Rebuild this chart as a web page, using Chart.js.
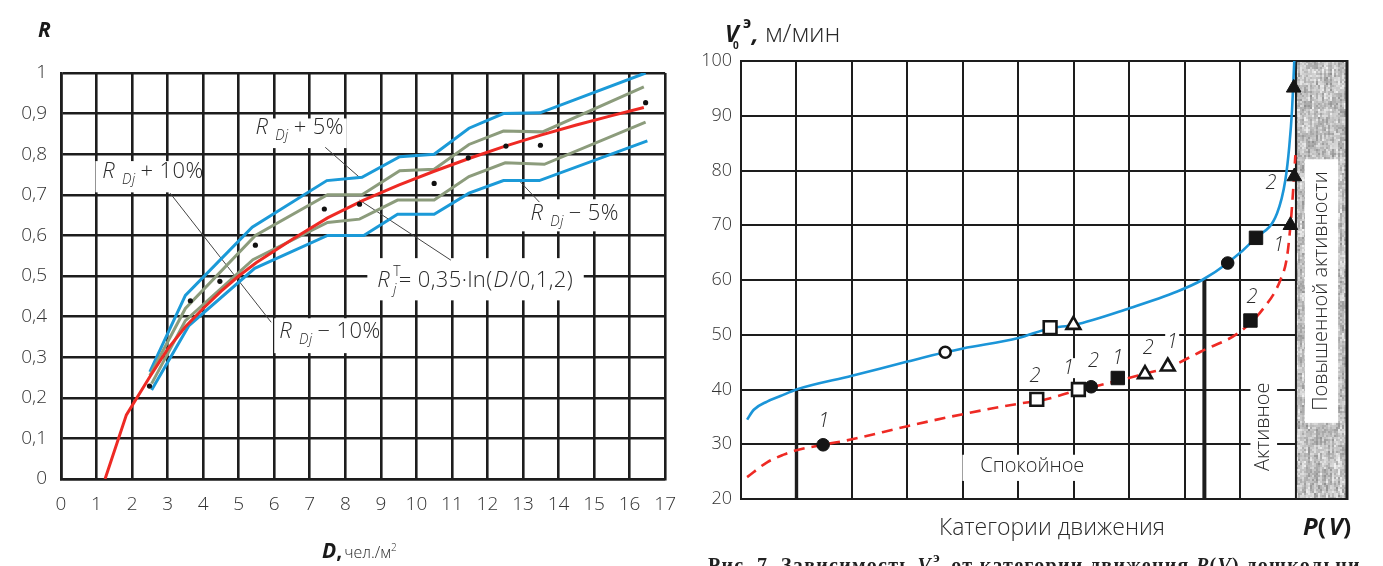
<!DOCTYPE html>
<html><head><meta charset="utf-8">
<script src="https://cdn.jsdelivr.net/npm/chart.js@4/dist/chart.umd.min.js"></script>
<style>
html,body{margin:0;padding:0;background:#fff;overflow:hidden;width:1383px;height:566px;}
#lw{position:absolute;left:0;top:0;width:690px;height:566px;}
#rw{position:absolute;left:690px;top:0;width:693px;height:566px;}
canvas{display:block;}
</style></head><body>
<div id="lw"><canvas id="lc" width="690" height="566"></canvas></div>
<div id="rw"><canvas id="rc" width="693" height="566"></canvas></div>
<script>
// ---------- LEFT CHART DATA (R vs D) ----------
const xTicksLeft = [0,1,2,3,4,5,6,7,8,9,10,11,12,13,14,15,16,17];
const redD = [1.24, 1.84, 2.5, 3.0, 3.5, 4.0, 4.5, 5.0, 5.5, 6.5, 7.5, 8.5, 9.5, 10.5, 11.5, 12.5, 13.5, 14.5, 15.5, 16.4];
const redR = [0, 0.158, 0.252, 0.32, 0.375, 0.42, 0.462, 0.50, 0.533, 0.59, 0.643, 0.686, 0.724, 0.758, 0.79, 0.82, 0.847, 0.872, 0.895, 0.915];
const up10D = [2.5, 3.5, 5.38, 7.48, 8.47, 9.53, 10.5, 11.48, 12.45, 13.48, 16.45];
const up10R = [0.264, 0.452, 0.62, 0.735, 0.743, 0.794, 0.80, 0.864, 0.90, 0.902, 1.0];
const up5D = [2.5, 3.5, 5.47, 7.5, 8.47, 9.53, 10.5, 11.48, 12.45, 13.55, 16.4];
const up5R = [0.255, 0.42, 0.60, 0.70, 0.70, 0.759, 0.763, 0.824, 0.857, 0.855, 0.966];
const dn5D = [2.55, 3.5, 5.4, 7.5, 8.4, 9.47, 10.5, 11.48, 12.5, 13.6, 16.45];
const dn5R = [0.235, 0.39, 0.54, 0.632, 0.64, 0.687, 0.687, 0.745, 0.779, 0.775, 0.879];
const dn10D = [2.55, 3.6, 5.45, 7.5, 8.52, 9.47, 10.5, 11.48, 12.45, 13.46, 16.5];
const dn10R = [0.219, 0.378, 0.519, 0.60, 0.60, 0.652, 0.652, 0.704, 0.735, 0.735, 0.833];
const dotD = [2.49, 3.64, 4.47, 5.47, 7.41, 8.4, 10.5, 11.46, 12.52, 13.49, 16.45];
const dotR = [0.229, 0.439, 0.487, 0.576, 0.665, 0.677, 0.728, 0.791, 0.82, 0.822, 0.927];

// ---------- RIGHT CHART DATA (V vs P(V)) ----------
const yTicksRight = [20,30,40,50,60,70,80,90,100];
const blueX = [0.11, 0.23, 0.47, 0.71, 1.0, 2.0, 3.0, 3.68, 4.0, 5.0, 5.57, 6.0, 7.0, 7.86, 8.31, 8.77, 9.28, 9.66, 9.81, 9.88, 9.93, 9.97];
const blueY = [34.5, 36.3, 37.8, 38.8, 40.0, 42.5, 45.1, 46.8, 47.5, 49.4, 51.2, 51.8, 54.85, 57.9, 60.0, 63.1, 67.7, 72.2, 78.3, 84.4, 91.1, 100];
const redX = [0.11, 0.47, 0.77, 1.0, 1.48, 2.0, 3.0, 4.0, 5.0, 5.45, 6.08, 6.31, 6.79, 7.28, 7.69, 8.28, 9.0, 9.42, 9.72, 9.84, 9.92, 9.99];
const redY = [24.0, 26.7, 28.1, 28.9, 29.9, 30.9, 33.3, 35.5, 37.4, 38.1, 39.9, 40.4, 41.6, 42.9, 44.0, 46.9, 50.6, 54.9, 60.0, 64.3, 72.2, 82.8];
const fCircX = [1.48, 6.31, 8.77];   const fCircY = [29.9, 40.5, 63.1];
const oCircX = [3.68];               const oCircY = [46.8];
const oSqX = [5.33, 5.57, 6.08];     const oSqY = [38.2, 51.3, 40.0];
const fSqX = [6.79, 9.18, 9.28];     const fSqY = [42.1, 52.6, 67.7];
const oTriX = [5.99, 7.28, 7.69];    const oTriY = [51.8, 42.8, 44.2];
const fTriX = [9.9, 9.97, 9.96];     const fTriY = [70.0, 78.9, 95.1];
const numLabels = ['1','2','1','2','1','2','1','2','2','1'];
const numX = [1.49, 5.30, 5.90, 6.35, 6.79, 7.34, 7.77, 9.21, 9.55, 9.69];
const numY = [34.15, 42.36, 43.9, 45.1, 45.7, 47.5, 48.7, 56.9, 77.7, 66.4];

// ---------- helpers ----------
const FAM = '"Open Sans", "Noto Sans", sans-serif';
const pts = (xs, ys) => xs.map((x, i) => ({x, y: ys[i]}));
function drawRich(ctx, x, base, parts){
  ctx.textBaseline = 'alphabetic'; ctx.textAlign = 'left';
  for (const p of parts){
    if (p.ax !== undefined) x = p.ax;
    ctx.font = p.f; ctx.fillStyle = p.c || '#2a2a2a';
    ctx.fillText(p.t, x, base + (p.dy || 0));
    if (!p.stay) x += ctx.measureText(p.t).width + (p.gap || 0);
  }
  return x;
}
const fR = 'italic 300 22px ' + FAM, fSub = 'italic 300 14px ' + FAM, fN = '300 22px ' + FAM;
const rdj = (rest) => [{t:'R', f:fR, gap:7},{t:'Dj', f:fSub, dy:6, gap:5},{t:rest, f:fN}];

// annotations of left chart (data coords): box [x0,x1,yTop,yBottom], text anchor
const leftNotes = [
  {box:[5.22, 8.04, 0.888, 0.815], tx:5.47, ty:0.85, parts: rdj('+ 5%')},
  {box:[0.97, 3.84, 0.783, 0.706], tx:1.16, ty:0.741, parts: rdj('+ 10%')},
  {box:[8.62, 14.71, 0.544, 0.44], tx:8.9, ty:0.4726, parts:[
     {t:'R', f:fR, gap:3},{t:'T', f:'300 14px '+FAM, dy:-11, stay:true},{t:'j', f:fSub, dy:7, gap:2},
     {t:'= 0,35·ln(', f:fN, gap:1},{t:'D', f:fR, gap:1},{t:'/0,1,2)', f:fN}]},
  {box:[12.91, 15.73, 0.689, 0.61], tx:13.21, ty:0.6375, parts: rdj('− 5%')},
  {box:[6.0, 8.98, 0.396, 0.31], tx:6.14, ty:0.347, parts: rdj('− 10%')}
];
const leftLeaders = [
  [7.435, 0.817, 8.40, 0.743],
  [3.07, 0.704, 5.915, 0.386],
  [8.40, 0.687, 10.97, 0.539],
  [12.88, 0.736, 13.46, 0.682]
];

const leftDecor = {
  id:'leftDecor',
  beforeDatasetsDraw(chart){
    const {ctx, scales:{x, y}} = chart;
    ctx.save();
    ctx.fillStyle = '#fff';
    for (const a of leftNotes){
      const x0 = x.getPixelForValue(a.box[0]), x1 = x.getPixelForValue(a.box[1]);
      const y0 = y.getPixelForValue(a.box[2]), y1 = y.getPixelForValue(a.box[3]);
      ctx.fillRect(x0, y0, x1 - x0, y1 - y0);
    }
    ctx.strokeStyle = '#444'; ctx.lineWidth = 1;
    for (const l of leftLeaders){
      ctx.beginPath();
      ctx.moveTo(x.getPixelForValue(l[0]), y.getPixelForValue(l[1]));
      ctx.lineTo(x.getPixelForValue(l[2]), y.getPixelForValue(l[3]));
      ctx.stroke();
    }
    ctx.letterSpacing = '0.4px';
    for (const a of leftNotes) drawRich(ctx, x.getPixelForValue(a.tx), y.getPixelForValue(a.ty), a.parts);
    ctx.restore();
  },
  afterDraw(chart){
    const ctx = chart.ctx;
    ctx.save();
    drawRich(ctx, 38, 37, [{t:'R', f:'italic bold 21px '+FAM, c:'#1a1a1a'}]);
    drawRich(ctx, 322, 558, [{t:'D', f:'italic bold 21px '+FAM, c:'#1a1a1a'},{t:',', f:'bold 21px '+FAM, c:'#1a1a1a', gap:2},
      {t:'чел./м', f:'300 16px '+FAM},{t:'2', f:'300 10px '+FAM, dy:-7}]);
    ctx.restore();
  }
};

new Chart(document.getElementById('lc'), {
  type:'scatter',
  data:{datasets:[
    {data:pts(dotD, dotR), showLine:false, pointRadius:2.6, pointBackgroundColor:'#111', pointBorderWidth:0},
    {data:pts(redD, redR), showLine:true, borderColor:'#ee2a24', borderWidth:3, pointRadius:0},
    {data:pts(up5D, up5R), showLine:true, borderColor:'#8c9c7c', borderWidth:3, pointRadius:0},
    {data:pts(dn5D, dn5R), showLine:true, borderColor:'#8c9c7c', borderWidth:3, pointRadius:0},
    {data:pts(up10D, up10R), showLine:true, borderColor:'#1b9ad8', borderWidth:3, pointRadius:0},
    {data:pts(dn10D, dn10R), showLine:true, borderColor:'#1b9ad8', borderWidth:3, pointRadius:0}
  ]},
  options:{
    responsive:false, animation:false, devicePixelRatio:1,
    layout:{padding:{left:0, top:73, right:14, bottom:0}},
    plugins:{legend:{display:false}, tooltip:{enabled:false}},
    scales:{
      x:{type:'linear', min:0, max:17,
         afterFit(s){ s.height = 87; },
         afterBuildTicks(s){ s.ticks = xTicksLeft.map(v => ({value:v})); },
         grid:{color:'#1d1d1d', lineWidth:2.6, drawTicks:false},
         border:{color:'#1d1d1d', width:2.6},
         ticks:{padding:14, color:'#333', font:{family:FAM, size:19, weight:300}}},
      y:{type:'linear', min:0, max:1,
         afterFit(s){ s.width = 61; },
         grid:{color:'#1d1d1d', lineWidth:2.6, drawTicks:false},
         border:{color:'#1d1d1d', width:2.6},
         ticks:{stepSize:0.1, padding:14, color:'#333', font:{family:FAM, size:19, weight:300},
                callback:(v) => String(Math.round(v*10)/10).replace('.', ',')}}
    }
  },
  plugins:[leftDecor]
});

// ---------- RIGHT CHART ----------
function hash(i, j){ const s = Math.sin(i*127.1 + j*311.7) * 43758.5453; return s - Math.floor(s); }
function makeTexture(w, h){
  const c = document.createElement('canvas'); c.width = w; c.height = h;
  const g = c.getContext('2d');
  for (let i = 0; i < Math.ceil(w/2); i++){
    for (let j = 0; j < Math.ceil(h/2); j++){
      const v = 0.55*hash(i, Math.floor(j/4)) + 0.45*hash(i+31, j);
      const k = Math.round(140 + 105*v);
      g.fillStyle = 'rgb(' + k + ',' + k + ',' + k + ')';
      g.fillRect(i*2, j*2, 2, 2);
    }
  }
  return c;
}
const rightBoxes = [
  {box:[3.99, 6.97, 28.08, 23.3], text:'Спокойное', cx:5.25, cy:25.9, rot:false},
  {box:[9.18, 9.66, 41.75, 24.8], text:'Активное', cx:9.42, cy:33.2, rot:true},
  {box:[10.16, 10.76, 82.05, 33.9], text:'Повышенной активности', cx:10.465, cy:58.0, rot:true}
];
const rightDecor = {
  id:'rightDecor',
  beforeDatasetsDraw(chart){
    const {ctx, chartArea:a, scales:{x, y}} = chart;
    ctx.save();
    const hx = x.getPixelForValue(10);
    ctx.drawImage(makeTexture(Math.ceil(a.right - hx), Math.ceil(a.bottom - a.top)), hx, a.top);
    ctx.strokeStyle = '#1d1d1d';
    ctx.lineWidth = 2; ctx.beginPath(); ctx.moveTo(hx, a.top); ctx.lineTo(hx, a.bottom); ctx.stroke();
    ctx.lineWidth = 2.2; ctx.beginPath(); ctx.moveTo(a.left, a.top); ctx.lineTo(a.right, a.top); ctx.stroke();
    ctx.beginPath(); ctx.moveTo(a.left, a.bottom); ctx.lineTo(a.right, a.bottom); ctx.stroke();
    ctx.lineWidth = 3; ctx.beginPath(); ctx.moveTo(a.right, a.top - 1); ctx.lineTo(a.right, a.bottom + 1); ctx.stroke();
    // thick category separators
    ctx.lineWidth = 3.4;
    ctx.beginPath(); ctx.moveTo(x.getPixelForValue(1), y.getPixelForValue(40)); ctx.lineTo(x.getPixelForValue(1), y.getPixelForValue(20)); ctx.stroke();
    ctx.lineWidth = 4;
    ctx.beginPath(); ctx.moveTo(x.getPixelForValue(8.35), y.getPixelForValue(60)); ctx.lineTo(x.getPixelForValue(8.35), y.getPixelForValue(20)); ctx.stroke();
    // category boxes
    for (const b of rightBoxes){
      const x0 = x.getPixelForValue(b.box[0]), x1 = x.getPixelForValue(b.box[1]);
      const y0 = y.getPixelForValue(b.box[2]), y1 = y.getPixelForValue(b.box[3]);
      ctx.fillStyle = '#fff'; ctx.fillRect(x0, y0, x1 - x0, y1 - y0);
      ctx.save();
      ctx.translate(x.getPixelForValue(b.cx), y.getPixelForValue(b.cy));
      if (b.rot) ctx.rotate(-Math.PI/2);
      ctx.font = '300 20px ' + FAM; ctx.fillStyle = '#2a2a2a'; ctx.textAlign = 'center'; ctx.textBaseline = 'middle';
      ctx.fillText(b.text, 0, 0);
      ctx.restore();
    }
    ctx.restore();
  },
  afterDatasetsDraw(chart){
    const {ctx, scales:{x, y}} = chart;
    ctx.save();
    ctx.font = 'italic 300 20px ' + FAM; ctx.textAlign = 'center'; ctx.textBaseline = 'middle';
    numLabels.forEach((t, i) => {
      const px = x.getPixelForValue(numX[i]), py = y.getPixelForValue(numY[i]);
      ctx.fillStyle = '#fff'; ctx.fillRect(px - 7, py - 10, 14, 20);
      ctx.fillStyle = '#2a2a2a'; ctx.fillText(t, px, py);
    });
    ctx.restore();
  },
  afterDraw(chart){
    const ctx = chart.ctx;
    ctx.save();
    // y title
    drawRich(ctx, 36, 42, [{t:'V', f:'italic bold 23px '+FAM, c:'#1a1a1a', ax:35},
      {t:'0', f:'bold 10px '+FAM, c:'#1a1a1a', ax:43, dy:7},
      {t:'э', f:'bold 16px '+FAM, c:'#1a1a1a', ax:53, dy:-14},
      {t:',', f:'italic bold 24px '+FAM, c:'#1a1a1a', ax:62},
      {t:'м/мин', f:'300 26px '+FAM, ax:75}]);
    // x title
    ctx.font = '300 23px ' + FAM; ctx.fillStyle = '#2a2a2a'; ctx.textAlign = 'center'; ctx.textBaseline = 'alphabetic';
    ctx.fillText('Категории движения', 362, 535);
    drawRich(ctx, 613, 535, [{t:'P', f:'italic bold 24px '+FAM, c:'#1a1a1a'},{t:'(', f:'bold 24px '+FAM, c:'#1a1a1a', gap:3},
      {t:'V', f:'italic bold 24px '+FAM, c:'#1a1a1a'},{t:')', f:'bold 24px '+FAM, c:'#1a1a1a'}]);
    // caption (cut off at bottom)
    ctx.letterSpacing = '1.3px';
    drawRich(ctx, 18, 572, [{t:'Рис. 7. Зависимость ', f:'bold 20px "Liberation Serif", serif', c:'#222'},
      {t:'V', f:'italic bold 20px "Liberation Serif", serif', c:'#222', gap:1},
      {t:'э', f:'bold 15px "Liberation Serif", serif', c:'#222', dy:-10, gap:4},
      {t:' от категории движения ', f:'bold 20px "Liberation Serif", serif', c:'#222'},
      {t:'P', f:'italic bold 20px "Liberation Serif", serif', c:'#222'},
      {t:'(', f:'bold 20px "Liberation Serif", serif', c:'#222'},
      {t:'V', f:'italic bold 20px "Liberation Serif", serif', c:'#222'},
      {t:') дошкольни', f:'bold 20px "Liberation Serif", serif', c:'#222'}]);
    ctx.restore();
  }
};

const mk = (xs, ys, style, r, filled) => ({
  data:pts(xs, ys), showLine:false, pointStyle:style, pointRadius:r,
  pointBackgroundColor: filled ? '#151515' : '#fff', pointBorderColor:'#151515', pointBorderWidth: filled ? 1 : 2.6
});

new Chart(document.getElementById('rc'), {
  type:'scatter',
  data:{datasets:[
    mk(fTriX, fTriY, 'triangle', 8.5, true),
    mk(oTriX, oTriY, 'triangle', 8, false),
    mk(fSqX, fSqY, 'rect', 9.5, true),
    mk(oSqX, oSqY, 'rect', 9, false),
    mk(oCircX, oCircY, 'circle', 5.5, false),
    mk(fCircX, fCircY, 'circle', 6.3, true),
    {data:pts(blueX, blueY), showLine:true, borderColor:'#1b95d8', borderWidth:2.6, pointRadius:0, cubicInterpolationMode:'monotone'},
    {data:pts(redX, redY), showLine:true, borderColor:'#ee2a24', borderWidth:2.6, borderDash:[11,7], pointRadius:0, cubicInterpolationMode:'monotone'}
  ]},
  options:{
    responsive:false, animation:false, devicePixelRatio:1,
    layout:{padding:{left:0, top:61, right:36, bottom:0}},
    plugins:{legend:{display:false}, tooltip:{enabled:false}},
    scales:{
      x:{type:'linear', min:0, max:10.92,
         afterFit(s){ s.height = 67; },
         grid:{color:'#1d1d1d', lineWidth:2, drawTicks:false},
         border:{color:'#1d1d1d', width:2},
         ticks:{stepSize:1, display:false}},
      y:{type:'linear', min:20, max:100,
         afterFit(s){ s.width = 51; },
         afterBuildTicks(s){ s.ticks = yTicksRight.map(v => ({value:v})); },
         grid:{color:'#1d1d1d', lineWidth:2, drawTicks:false},
         border:{color:'#1d1d1d', width:2},
         ticks:{padding:9, color:'#333', font:{family:FAM, size:18, weight:300}}}
    }
  },
  plugins:[rightDecor]
});
</script></body></html>
